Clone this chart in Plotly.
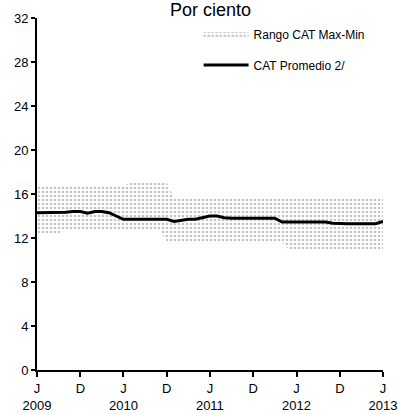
import plotly.graph_objects as go
import pandas as pd

months = pd.date_range("2009-06-01", "2013-06-01", freq="MS").strftime("%Y-%m-%d").tolist()

cat_avg = [14.3, 14.3, 14.3, 14.3, 14.35, 14.4, 14.4, 14.25, 14.4, 14.4,
           14.3, 14.0, 13.7, 13.7, 13.7, 13.7, 13.7, 13.7, 13.7, 13.5,
           13.6, 13.7, 13.7, 13.85, 14.0, 14.0, 13.85, 13.8, 13.8, 13.8,
           13.8, 13.8, 13.8, 13.8, 13.45, 13.45, 13.45, 13.45, 13.45, 13.45,
           13.45, 13.35, 13.3, 13.3, 13.3, 13.3, 13.3, 13.3, 13.5]

cat_max = [16.75] * 13 + [17.0] * 6 + [15.65] * 30

cat_min = [12.4] * 4 + [12.8] * 14 + [11.6] * 17 + [10.9] * 14

tick_vals = ["2009-06-01", "2009-12-01", "2010-06-01", "2010-12-01", "2011-06-01",
             "2011-12-01", "2012-06-01", "2012-12-01", "2013-06-01"]
tick_text = ["J<br>2009", "D", "J<br>2010", "D", "J<br>2011", "D", "J<br>2012", "D", "J<br>2013"]
y_ticks = [0, 4, 8, 12, 16, 20, 24, 28, 32]

fig = go.Figure()
fig.add_trace(go.Scatter(x=months, y=cat_min, mode="lines", line=dict(width=0, color="#bbb"),
                         showlegend=False, hoverinfo="skip", legendgroup="min"))
fig.add_trace(go.Scatter(x=months, y=cat_max, mode="lines", line=dict(width=0, color="#bbb"),
                         fill="tonexty", fillcolor="rgba(0,0,0,0)",
                         fillpattern=dict(shape=".", fgcolor="#8a8a8a", bgcolor="white", size=4, solidity=0.35),
                         name="Rango CAT Max-Min", legendgroup="rango"))
fig.add_trace(go.Scatter(x=months, y=cat_avg, mode="lines", line=dict(width=3, color="black"),
                         name="CAT Promedio 2/", legendgroup="prom"))

fig.update_layout(
    width=400, height=414,
    margin=dict(l=37, r=17, t=18, b=44, autoexpand=False),
    plot_bgcolor="white", paper_bgcolor="white",
    font=dict(family="Liberation Sans, Arial", size=13, color="black"),
    showlegend=True,
    legend=dict(x=0.467, y=0.996, xanchor="left", yanchor="top", font=dict(size=12),
                tracegroupgap=12, itemwidth=45, bgcolor="rgba(0,0,0,0)"),
    annotations=[dict(text="Por ciento", xref="paper", yref="paper", x=0.5, y=(370 - 10) / 352,
                      xanchor="center", yanchor="middle", showarrow=False,
                      font=dict(size=18, family="Liberation Sans, Arial"))],
)
fig.update_xaxes(range=["2009-06-01", "2013-06-01"], tickvals=tick_vals, ticktext=tick_text,
                 showgrid=False, showline=True, linecolor="black", linewidth=2, automargin=False,
                 ticks="outside", ticklen=5, tickwidth=1.5, tickcolor="black", zeroline=False,
                 tickfont=dict(size=13))
fig.update_yaxes(range=[0, 32], tickvals=y_ticks, showgrid=False, showline=True, automargin=False,
                 linecolor="black", linewidth=2, ticks="outside", ticklen=4, tickwidth=1.5,
                 tickcolor="black", zeroline=False, tickfont=dict(size=13))

fig.write_html("out.html", config={"displayModeBar": False},
               post_script="document.body.style.margin='0';document.body.style.overflow='hidden';")
